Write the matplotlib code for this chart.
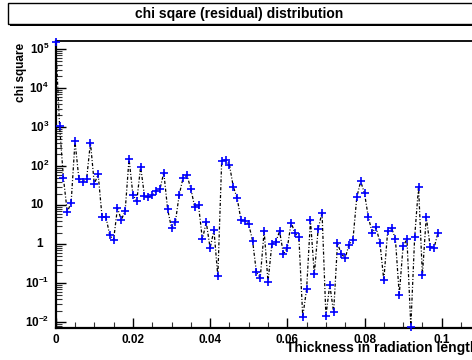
import numpy as np
import matplotlib
matplotlib.use("Agg")
import matplotlib.pyplot as plt
import matplotlib.transforms as mtransforms
from matplotlib.patches import Rectangle
from matplotlib.ticker import FixedLocator, NullFormatter

plt.rcParams['font.family'] = ['Liberation Sans', 'DejaVu Sans']
plt.rcParams['font.weight'] = 'bold'
plt.rcParams['mathtext.fontset'] = 'custom'
plt.rcParams['mathtext.rm'] = 'Liberation Sans:bold'
plt.rcParams['mathtext.bf'] = 'Liberation Sans:bold'
plt.rcParams['mathtext.default'] = 'bf'

# chi square per thickness bin
chi2 = [
    1.5e5, 1100, 50, 6.7, 11.7, 437, 48, 40, 46, 405,
    35, 63, 5.1, 5.1, 1.7, 1.3, 8.5, 4.2, 7.3, 156,
    18.7, 12.7, 98, 17.3, 16.1, 18.1, 22.9, 25.7, 69, 7.9,
    2.6, 3.7, 18.7, 50, 59, 26.7, 9.2, 10, 1.34, 3.7,
    0.80, 2.3, 0.15, 134, 145, 110, 30, 15.4, 4.2, 3.9,
    3.3, 1.24, 0.19, 0.14, 2.2, 0.11, 1.0, 1.15, 2.15, 0.56,
    0.80, 3.6, 1.9, 1.5, 0.014, 0.07, 4.2, 0.17, 2.5, 6.5,
    0.0145, 0.092, 0.018, 1.06, 0.56, 0.45, 0.98, 1.29, 16, 41,
    20.3, 4.9, 2.0, 2.7, 1.1, 0.12, 2.15, 2.6, 1.4, 0.051,
    0.90, 1.34, 0.0077, 1.57, 30, 0.16, 5.1, 0.87, 0.80, 1.9,
]
x_step = 0.001
thickness = np.arange(len(chi2)) * x_step

x_ticks = [0, 0.02, 0.04, 0.06, 0.08, 0.1]
x_tick_labels = ["0", "0.02", "0.04", "0.06", "0.08", "0.1"]
y_ticks = [1e5, 1e4, 1e3, 1e2, 10, 1, 0.1, 0.01]
y_tick_labels = [r"$10^{5}$", r"$10^{4}$", r"$10^{3}$", r"$10^{2}$",
                 "10", "1", r"$10^{-1}$", r"$10^{-2}$"]

W, H = 472, 360
fig = plt.figure(figsize=(W / 100, H / 100), dpi=100)
x0, x1, ytop, ybot = 55.7, 472, 41, 328
ax = fig.add_axes([x0 / W, 1 - ybot / H, (x1 - x0) / W, (ybot - ytop) / H])

ax.plot(thickness, chi2, color="black", lw=0.9, ls=(0, (2.5, 1.5, 0.8, 1.5)))
ax.plot(thickness, chi2, ls="none", marker="+", ms=6, mew=1.2, color="#0000ff",
        clip_on=False, zorder=5)

ax.set_yscale("log")
ax.set_xlim(0, (x1 - x0) / 3.86 * 0.001)
ax.set_ylim(10 ** -2.146, 10 ** 5.21)

ax.set_xticks(x_ticks, x_tick_labels)
ax.xaxis.set_minor_locator(FixedLocator(np.arange(0, 0.11, 0.005)))
ax.yaxis.set_major_locator(FixedLocator(y_ticks))
ax.yaxis.set_major_formatter(NullFormatter())
ax.yaxis.set_minor_locator(matplotlib.ticker.LogLocator(base=10, subs=np.arange(2, 10)))
ax.yaxis.set_minor_formatter(NullFormatter())

ax.tick_params(axis="both", which="major", direction="in", length=7, width=1, color="black")
ax.tick_params(axis="both", which="minor", direction="in", length=4, width=0.8, color="#333333")
ax.tick_params(axis="x", labelsize=8.5, pad=4)
ax.tick_params(top=False, right=False)

for s in ["left", "bottom"]:
    ax.spines[s].set_linewidth(1.6)
ax.spines["top"].set_linewidth(1.3)
ax.spines["right"].set_visible(False)

# y tick labels: plain numbers end further left, exponent sticks out (ROOT style)
for v, lab in zip(y_ticks, y_tick_labels):
    dx = -6.5 if "^" in lab else -12.5
    tr = mtransforms.blended_transform_factory(ax.transAxes, ax.transData) + \
        mtransforms.ScaledTranslation(dx / 100, 0, fig.dpi_scale_trans)
    ax.text(0, v, lab, transform=tr, ha="right", va="center", fontsize=8.5,
            fontweight="bold", clip_on=False)

# title box
fig.patches.append(Rectangle((10 / W, 1 - 26 / H), 1, 3 / H, transform=fig.transFigure,
                             facecolor="black", edgecolor="none"))
fig.patches.append(Rectangle((8 / W, 1 - 24 / H), 1, 21 / H, transform=fig.transFigure,
                             facecolor="white", edgecolor="black", lw=1))
fig.text(239 / W, 1 - 14 / H, "chi sqare (residual) distribution", ha="center", va="center",
         fontsize=10, fontweight="bold")

fig.text(21 / W, 1 - 43 / H, "chi square", rotation=90, ha="center", va="top",
         fontsize=8.5, fontweight="bold")
fig.text(478 / W, 1 - 348 / H, "Thickness in radiation length", ha="right", va="center",
         fontsize=10, fontweight="bold")

fig.savefig("out.png", dpi=100)
